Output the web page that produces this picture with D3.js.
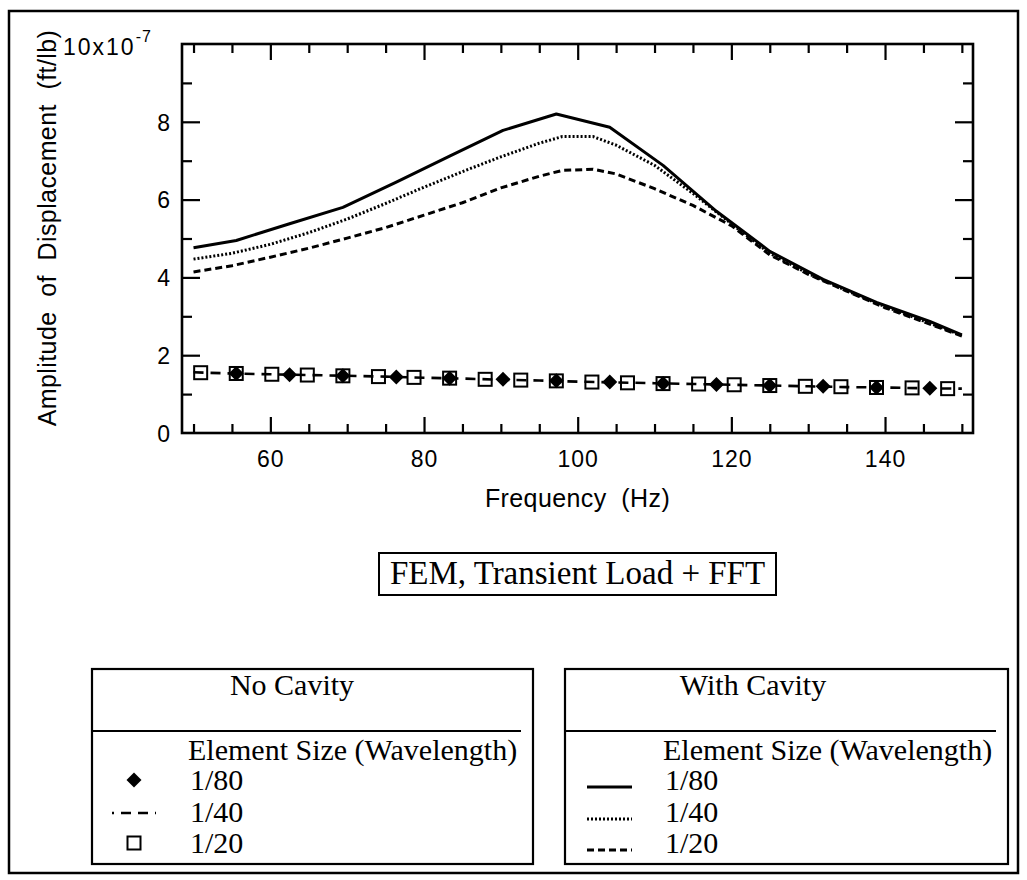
<!DOCTYPE html>
<html><head><meta charset="utf-8">
<script src="https://cdn.jsdelivr.net/npm/d3@7"></script>
<style>body{margin:0;background:#fff} svg{display:block} text{white-space:pre}</style>
</head><body><svg id="c" width="1027" height="880"></svg>
<script>
// ---------- data ----------
const xTickLabels = [60, 80, 100, 120, 140];
const yTickLabels = [0, 2, 4, 6, 8];
// With cavity (transient load + FFT)
const freqCav80 = [50, 55.56, 62.50, 69.44, 76.39, 83.33, 90.28, 97.22, 104.17, 111.11, 118.06, 125.00, 131.94, 138.89, 145.83, 150];
const cav80 = [4.76, 4.95, 5.38, 5.80, 6.45, 7.12, 7.78, 8.20, 7.86, 6.88, 5.70, 4.67, 3.95, 3.36, 2.87, 2.52];
const freqCavFine = [50, 55, 60, 65, 70, 75, 80, 85, 90, 95, 98, 102, 105, 110, 115, 120, 125, 130, 135, 140, 145, 150];
const cav40 = [4.47, 4.62, 4.85, 5.15, 5.50, 5.90, 6.32, 6.72, 7.10, 7.45, 7.62, 7.62, 7.40, 6.88, 6.16, 5.38, 4.62, 4.10, 3.66, 3.25, 2.88, 2.51];
const cav20 = [4.14, 4.30, 4.52, 4.75, 5.01, 5.28, 5.60, 5.92, 6.30, 6.60, 6.75, 6.78, 6.66, 6.28, 5.85, 5.33, 4.58, 4.08, 3.65, 3.22, 2.86, 2.49];
// No cavity
const freqNo80 = [55.56, 62.50, 69.44, 76.39, 83.33, 90.28, 97.22, 104.17, 111.11, 118.06, 125.00, 131.94, 138.89, 145.83];
const no80 = [1.53, 1.50, 1.47, 1.44, 1.41, 1.38, 1.34, 1.31, 1.27, 1.25, 1.22, 1.20, 1.17, 1.15];
const freqNo40 = [50, 55, 60, 65, 70, 75, 80, 85, 90, 95, 100, 105, 110, 115, 120, 125, 130, 135, 140, 145, 150];
const no40 = [1.56, 1.53, 1.51, 1.49, 1.47, 1.45, 1.42, 1.40, 1.37, 1.35, 1.32, 1.30, 1.28, 1.26, 1.24, 1.22, 1.20, 1.18, 1.17, 1.15, 1.14];
const freqNo20 = [50.93, 55.56, 60.19, 64.81, 69.44, 74.07, 78.70, 83.33, 87.96, 92.59, 97.22, 101.85, 106.48, 111.11, 115.74, 120.37, 125.00, 129.63, 134.26, 138.89, 143.52, 148.15];
const no20 = [1.55, 1.53, 1.51, 1.49, 1.47, 1.45, 1.43, 1.41, 1.38, 1.36, 1.34, 1.31, 1.29, 1.27, 1.26, 1.24, 1.22, 1.20, 1.19, 1.17, 1.16, 1.14];
const legendSizes = ['1/80', '1/40', '1/20'];

// ---------- setup ----------
const SANS = '"Liberation Sans", Arial, Helvetica, sans-serif';
const SERIF = '"Liberation Serif", "Times New Roman", Times, serif';
const svg = d3.select('#c');
svg.append('rect').attr('width', 1027).attr('height', 880).attr('fill', '#fff');
svg.append('rect').attr('x', 9).attr('y', 11).attr('width', 1009).attr('height', 862)
  .attr('fill', 'none').attr('stroke', '#000').attr('stroke-width', 2.5);

const L = 182, R = 973, T = 44, B = 433;
const x = d3.scaleLinear().domain([48.5, 151.45]).range([L, R]);
const y = d3.scaleLinear().domain([0, 10]).range([B, T]);

const xMinor = d3.range(50, 151, 5).filter(v => v % 20 !== 0);
const yMinor = [1, 3, 5, 7, 9];
const yMajor = [2, 4, 6, 8];

function styleAxis(g) {
  g.select('.domain').remove();
  g.selectAll('line').attr('stroke', '#000').attr('stroke-width', 2.2);
}
// bottom
svg.append('g').attr('transform', `translate(0,${B})`).call(d3.axisBottom(x).tickValues(xMinor).tickSize(-9).tickFormat('')).call(styleAxis);
svg.append('g').attr('transform', `translate(0,${B})`).call(d3.axisBottom(x).tickValues(xTickLabels).tickSize(-16).tickPadding(18).tickFormat(d3.format('d'))).call(styleAxis)
  .selectAll('text').attr('font-family', SANS).attr('font-size', 23).attr('letter-spacing', 1).attr('fill', '#000');
// top
svg.append('g').attr('transform', `translate(0,${T})`).call(d3.axisTop(x).tickValues(xMinor).tickSize(-9).tickFormat('')).call(styleAxis);
svg.append('g').attr('transform', `translate(0,${T})`).call(d3.axisTop(x).tickValues(xTickLabels).tickSize(-16).tickFormat('')).call(styleAxis);
// left
svg.append('g').attr('transform', `translate(${L},0)`).call(d3.axisLeft(y).tickValues(yMinor).tickSize(-10).tickFormat('')).call(styleAxis);
svg.append('g').attr('transform', `translate(${L},0)`).call(d3.axisLeft(y).tickValues(yMajor).tickSize(-18).tickFormat('')).call(styleAxis);
svg.append('g').attr('transform', `translate(${L},0)`).call(d3.axisLeft(y).tickValues(yTickLabels).tickSize(0).tickPadding(12).tickFormat(d3.format('d'))).call(styleAxis)
  .selectAll('text').attr('font-family', SANS).attr('font-size', 23).attr('fill', '#000').attr('dy', '0.36em');
// right
svg.append('g').attr('transform', `translate(${R},0)`).call(d3.axisRight(y).tickValues(yMinor).tickSize(-10).tickFormat('')).call(styleAxis);
svg.append('g').attr('transform', `translate(${R},0)`).call(d3.axisRight(y).tickValues(yMajor).tickSize(-18).tickFormat('')).call(styleAxis);

// frame
svg.append('rect').attr('x', L).attr('y', T).attr('width', R - L).attr('height', B - T)
  .attr('fill', 'none').attr('stroke', '#000').attr('stroke-width', 2.6);

// scale exponent label
const ex = svg.append('text').attr('x', 63).attr('y', 55).attr('font-family', SANS).attr('font-size', 23).attr('letter-spacing', 2).attr('fill', '#000');
ex.append('tspan').text('10x10');
ex.append('tspan').attr('font-size', 16).attr('dy', -13).attr('letter-spacing', 1).text('-7');

// axis titles
svg.append('text').attr('x', (L + R) / 2).attr('y', 507).attr('text-anchor', 'middle')
  .attr('font-family', SANS).attr('font-size', 25).attr('letter-spacing', 0.4).attr('fill', '#000').text('Frequency  (Hz)');
svg.append('text').attr('transform', 'translate(56,228) rotate(-90)').attr('text-anchor', 'middle')
  .attr('font-family', SANS).attr('font-size', 25).attr('letter-spacing', 0.4).attr('fill', '#000').text('Amplitude  of  Displacement  (ft/lb)');

// ---------- series ----------
const line = d3.line().x(d => x(d[0])).y(d => y(d[1]));
const zip = (a, b) => a.map((v, i) => [v, b[i]]);
const plot = svg.append('g');
plot.append('path').datum(zip(freqCav80, cav80)).attr('d', line).attr('fill', 'none').attr('stroke', '#000').attr('stroke-width', 3).attr('stroke-linejoin', 'round');
plot.append('path').datum(zip(freqCavFine, cav40)).attr('d', line).attr('fill', 'none').attr('stroke', '#000').attr('stroke-width', 3).attr('stroke-dasharray', '2,2');
plot.append('path').datum(zip(freqCavFine, cav20)).attr('d', line).attr('fill', 'none').attr('stroke', '#000').attr('stroke-width', 3).attr('stroke-dasharray', '7,4');
plot.append('path').datum(zip(freqNo40, no40)).attr('d', line).attr('fill', 'none').attr('stroke', '#000').attr('stroke-width', 2.6).attr('stroke-dasharray', '10,7');
plot.selectAll('rect.sq').data(zip(freqNo20, no20)).enter().append('rect').attr('class', 'sq')
  .attr('x', d => x(d[0]) - 6.5).attr('y', d => y(d[1]) - 6.5).attr('width', 13).attr('height', 13)
  .attr('fill', 'none').attr('stroke', '#000').attr('stroke-width', 2);
const diamond = 'M0,-7.5L7.5,0L0,7.5L-7.5,0Z';
plot.selectAll('path.dm').data(zip(freqNo80, no80)).enter().append('path').attr('class', 'dm')
  .attr('d', diamond).attr('transform', d => `translate(${x(d[0])},${y(d[1])})`).attr('fill', '#000');

// ---------- caption box ----------
svg.append('rect').attr('x', 379).attr('y', 553).attr('width', 397).attr('height', 42)
  .attr('fill', 'none').attr('stroke', '#000').attr('stroke-width', 2);
svg.append('text').attr('x', 577.5).attr('y', 584).attr('text-anchor', 'middle')
  .attr('font-family', SERIF).attr('font-size', 33).attr('fill', '#000').text('FEM, Transient Load + FFT');

// ---------- legends ----------
function legendBox(bx, bw, title, titleX) {
  const g = svg.append('g');
  g.append('rect').attr('x', bx).attr('y', 669).attr('width', bw).attr('height', 195)
    .attr('fill', 'none').attr('stroke', '#000').attr('stroke-width', 2.2);
  g.append('text').attr('x', titleX).attr('y', 695).attr('text-anchor', 'middle')
    .attr('font-family', SERIF).attr('font-size', 30).attr('fill', '#000').text(title);
  g.append('line').attr('x1', bx).attr('x2', bx + bw - 12).attr('y1', 731).attr('y2', 731)
    .attr('stroke', '#000').attr('stroke-width', 2);
  return g;
}
const rowY = [790, 822, 853];
// No cavity
const g1 = legendBox(92, 441, 'No Cavity', 292);
g1.append('text').attr('x', 188).attr('y', 760).attr('font-family', SERIF).attr('font-size', 30).attr('fill', '#000').text('Element Size (Wavelength)');
g1.selectAll('text.row').data(legendSizes).enter().append('text').attr('class', 'row')
  .attr('x', 190).attr('y', (d, i) => rowY[i]).attr('font-family', SERIF).attr('font-size', 30).attr('fill', '#000').text(d => d);
g1.append('path').attr('d', diamond).attr('transform', `translate(134,${rowY[0] - 10})`).attr('fill', '#000');
g1.append('line').attr('x1', 112).attr('x2', 156).attr('y1', rowY[1] - 9).attr('y2', rowY[1] - 9)
  .attr('stroke', '#000').attr('stroke-width', 2.6).attr('stroke-dasharray', '10,7').attr('stroke-dashoffset', 8);
g1.append('rect').attr('x', 134 - 6.5).attr('y', rowY[2] - 10 - 6.5).attr('width', 13).attr('height', 13)
  .attr('fill', 'none').attr('stroke', '#000').attr('stroke-width', 2);
// With cavity
const g2 = legendBox(565, 443, 'With Cavity', 753);
g2.append('text').attr('x', 663).attr('y', 760).attr('font-family', SERIF).attr('font-size', 30).attr('fill', '#000').text('Element Size (Wavelength)');
g2.selectAll('text.row').data(legendSizes).enter().append('text').attr('class', 'row')
  .attr('x', 665).attr('y', (d, i) => rowY[i]).attr('font-family', SERIF).attr('font-size', 30).attr('fill', '#000').text(d => d);
const dashes = [null, '2,2', '7,4'];
dashes.forEach((da, i) => {
  const ln = g2.append('line').attr('x1', 587).attr('x2', 632).attr('y1', rowY[i] - 3).attr('y2', rowY[i] - 3)
    .attr('stroke', '#000').attr('stroke-width', 3);
  if (da) ln.attr('stroke-dasharray', da);
});
</script></body></html>
